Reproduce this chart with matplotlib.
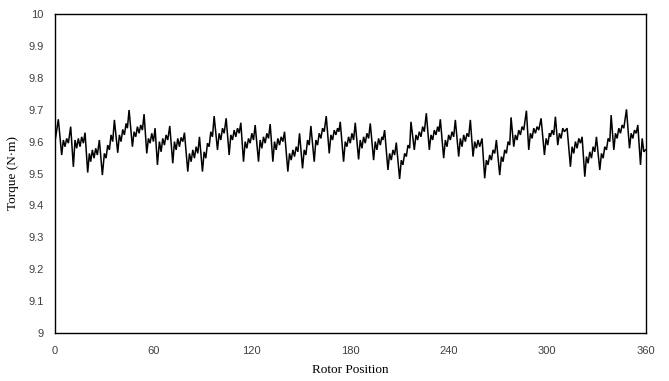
import matplotlib
matplotlib.use("Agg")
import matplotlib.pyplot as plt

rotor_position = [
    0.00, 2.03, 4.07, 5.09, 6.10, 7.12, 8.14, 9.56, 11.19, 12.21, 13.22, 14.24, 15.26, 16.27, 17.29, 18.31,
    19.93, 20.95, 21.76, 22.78, 23.80, 24.82, 25.83, 27.05, 28.88, 30.10, 31.12, 32.14, 33.16, 34.17, 35.19,
    36.21, 38.24, 39.26, 40.27, 41.29, 42.31, 43.33, 44.14, 45.16, 47.19, 48.21, 49.22, 50.24, 51.26, 52.27,
    53.29, 54.31, 55.94, 56.95, 57.97,
    58.99, 60.00, 61.02, 62.44, 63.66, 64.68, 65.70, 66.72, 67.73, 68.75, 69.97, 71.80, 72.82, 73.84, 74.85,
    75.87, 76.89, 77.90, 78.92, 80.95, 81.97, 82.99, 84.01, 85.02, 86.04, 87.06, 88.07, 89.90, 90.92, 91.94,
    92.95, 93.97, 94.99, 96.01, 97.02, 99.06, 100.07, 101.09, 102.11, 103.12, 104.35, 106.18, 107.19, 108.21,
    109.23, 110.24, 111.26, 112.28, 113.29, 114.92, 115.94, 116.96, 117.97,
    118.98, 120.00, 121.01, 122.03, 124.07, 125.08, 126.10, 127.12, 128.13, 129.15, 130.17, 131.18, 132.81,
    133.83, 134.85, 135.86, 136.88, 137.90, 138.91, 139.93, 141.96, 142.98, 144.00, 145.02, 146.03, 147.05,
    148.07, 149.08, 150.91, 151.93, 152.95, 153.96, 154.98, 156.00, 158.03, 159.05, 160.07, 161.08, 162.10,
    163.12, 164.13, 165.36, 167.19, 168.20, 169.22, 170.24, 171.25, 172.27, 173.08, 173.90, 175.93, 176.95,
    177.97, 178.98,
    180.00, 181.02, 182.03, 183.05, 185.09, 186.10, 187.12, 188.14, 189.15, 190.17, 191.19, 192.20, 194.24,
    195.26, 196.27, 197.29, 198.31, 199.32, 199.93, 200.95, 202.98, 204.00, 205.02, 206.04, 207.05, 208.07,
    210.10, 211.12, 212.14, 213.15, 214.17, 215.19, 216.21, 217.02, 219.05, 220.07, 221.09, 222.10, 223.12,
    224.14, 225.15, 226.38, 228.21, 229.22, 230.24, 231.26, 232.27, 233.29, 234.10, 234.92, 236.95, 237.97,
    238.99, 240.00,
    241.02, 242.04, 243.05, 244.07, 246.11, 247.12, 248.14, 249.16, 250.17, 251.19, 252.21, 253.22, 254.85,
    255.87, 256.89, 257.90, 258.92, 260.34, 261.97, 262.99, 264.00, 265.02, 266.04, 267.06, 268.07, 269.09,
    271.12, 272.14, 273.16, 274.17, 275.19, 276.21, 277.23, 278.04, 279.67, 280.68, 281.70, 282.72, 283.73,
    284.75, 285.77, 287.40, 288.82, 289.84, 290.85, 291.87, 292.89, 293.90, 294.92, 296.34, 298.38, 299.40,
    300.41, 301.43,
    302.03, 303.05, 304.06, 305.08, 306.50, 307.52, 308.54, 309.56, 310.57, 312.20, 314.23, 315.25, 316.27,
    317.29, 318.30, 319.32, 320.34, 321.35, 322.98, 324.00, 325.01, 326.03, 327.05, 328.07, 329.08, 330.10,
    332.13, 333.15, 334.17, 335.18, 336.20, 337.22, 338.24, 339.05, 340.68, 341.69, 342.71, 343.73, 344.74,
    345.76, 346.78, 348.41, 350.24, 351.25, 352.27, 353.29, 354.30, 355.32, 356.95, 357.97, 358.98, 360.00,
]

torque = [
    9.600, 9.670, 9.558, 9.605, 9.584, 9.610, 9.595, 9.647, 9.521, 9.605, 9.579, 9.610, 9.584, 9.615, 9.595, 9.628,
    9.503, 9.563, 9.537, 9.574, 9.548, 9.579, 9.558, 9.605, 9.495, 9.563, 9.548, 9.589, 9.574, 9.621, 9.600,
    9.668, 9.565, 9.621, 9.600, 9.638, 9.621, 9.657, 9.642, 9.699, 9.584, 9.631, 9.615, 9.647, 9.626, 9.652,
    9.636, 9.686, 9.563, 9.610, 9.595,
    9.626, 9.600, 9.642, 9.527, 9.600, 9.568, 9.610, 9.589, 9.621, 9.605, 9.649, 9.532, 9.600, 9.574, 9.610,
    9.584, 9.613, 9.600, 9.628, 9.506, 9.563, 9.537, 9.574, 9.548, 9.584, 9.563, 9.615, 9.506, 9.568, 9.548,
    9.595, 9.584, 9.631, 9.615, 9.680, 9.574, 9.626, 9.605, 9.642, 9.626, 9.673, 9.558, 9.621, 9.605,
    9.636, 9.615, 9.642, 9.626, 9.659, 9.537, 9.600, 9.579, 9.610,
    9.595, 9.626, 9.605, 9.652, 9.537, 9.605, 9.579, 9.615, 9.595, 9.626, 9.610, 9.655, 9.537,
    9.600, 9.574, 9.610, 9.589, 9.615, 9.600, 9.631, 9.506, 9.563, 9.542, 9.574, 9.553, 9.584,
    9.568, 9.626, 9.516, 9.574, 9.558, 9.605, 9.589, 9.649, 9.537, 9.605, 9.589, 9.626, 9.610,
    9.642, 9.631, 9.680, 9.563, 9.621, 9.605, 9.636, 9.621, 9.642, 9.631, 9.662, 9.537, 9.600,
    9.584, 9.615,
    9.595, 9.626, 9.605, 9.659, 9.544, 9.605, 9.579, 9.615, 9.595, 9.626, 9.610, 9.657, 9.542,
    9.600, 9.574, 9.610, 9.589, 9.615, 9.605, 9.636, 9.511, 9.563, 9.542, 9.574, 9.558, 9.597,
    9.483, 9.542, 9.527, 9.563, 9.553, 9.589, 9.579, 9.662, 9.574, 9.621, 9.605, 9.631, 9.615,
    9.647, 9.631, 9.689, 9.574, 9.621, 9.605, 9.636, 9.621, 9.647, 9.631, 9.670, 9.548, 9.605,
    9.584, 9.621,
    9.605, 9.631, 9.615, 9.668, 9.553, 9.610, 9.584, 9.621, 9.600, 9.626, 9.615, 9.668, 9.553,
    9.600, 9.579, 9.605, 9.584, 9.610, 9.485, 9.542, 9.527, 9.558, 9.542, 9.574, 9.563, 9.605,
    9.495, 9.553, 9.537, 9.574, 9.563, 9.600, 9.589, 9.676, 9.584, 9.621, 9.605, 9.636, 9.621,
    9.647, 9.636, 9.697, 9.574, 9.626, 9.610, 9.642, 9.626, 9.647, 9.636, 9.673, 9.558, 9.610,
    9.589, 9.626,
    9.615, 9.636, 9.621, 9.678, 9.589, 9.626, 9.610, 9.642, 9.631, 9.642, 9.521, 9.584, 9.563,
    9.600, 9.579, 9.610, 9.595, 9.615, 9.490, 9.553, 9.532, 9.568, 9.548, 9.584, 9.568, 9.615,
    9.511, 9.563, 9.548, 9.584, 9.574, 9.610, 9.600, 9.683, 9.574, 9.626, 9.610, 9.642, 9.626,
    9.652, 9.642, 9.701, 9.579, 9.626, 9.610, 9.636, 9.626, 9.652, 9.527, 9.610, 9.568, 9.574,
]

x_ticks = [0, 60, 120, 180, 240, 300, 360]
y_ticks = [9, 9.1, 9.2, 9.3, 9.4, 9.5, 9.6, 9.7, 9.8, 9.9, 10]
y_tick_labels = ["9", "9.1", "9.2", "9.3", "9.4", "9.5", "9.6", "9.7", "9.8", "9.9", "10"]

fig = plt.figure(figsize=(6.69, 3.81), dpi=100)
ax = fig.add_axes([55 / 669, 1 - 333 / 381, (645.5 - 55) / 669, (333 - 14) / 381])

ax.plot(rotor_position, torque, color="black", linewidth=1.1, solid_joinstyle="miter")

ax.set_xlim(0, 360)
ax.set_ylim(9, 10)
ax.set_xticks(x_ticks)
ax.set_yticks(y_ticks)
ax.set_yticklabels(y_tick_labels)
ax.tick_params(axis="both", length=0, labelsize=8, colors="#404040",
               labelfontfamily="Liberation Sans")
ax.tick_params(axis="y", pad=8)
ax.tick_params(axis="x", pad=9)
for s in ax.spines.values():
    s.set_color("black")
    s.set_linewidth(1.0)

ax.set_xlabel("Rotor Position", family="Liberation Serif", fontsize=9.5, labelpad=6)
ax.set_ylabel("Torque (N·m)", family="Liberation Serif", fontsize=9.5, labelpad=7)

fig.savefig("out.png", dpi=100)
